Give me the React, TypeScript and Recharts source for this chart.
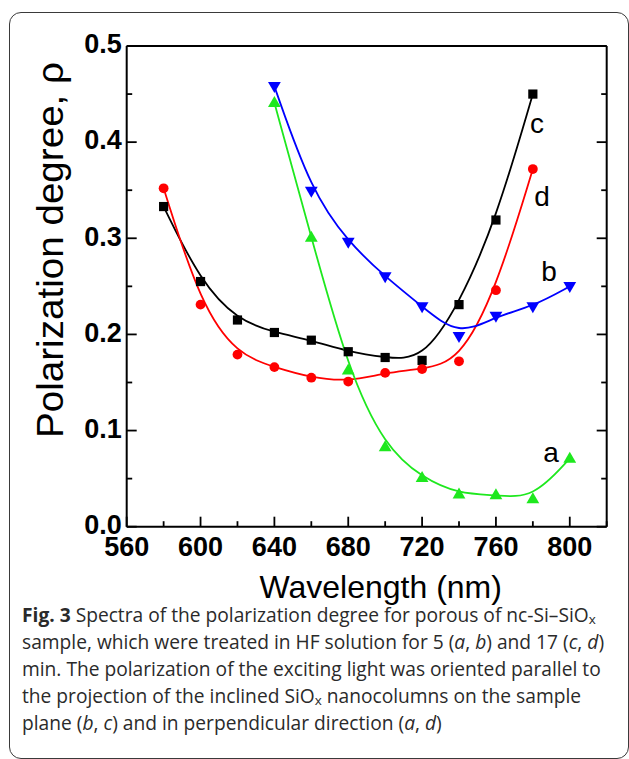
import React from 'react';
import { LineChart, Line, XAxis, YAxis, ReferenceDot } from 'recharts';

// ---------- data ----------
const wavelengthsAB = [640, 660, 680, 700, 720, 740, 760, 780, 800];
const wavelengthsCD = [580, 600, 620, 640, 660, 680, 700, 720, 740, 760, 780];
const seriesA = [0.441, 0.301, 0.163, 0.083, 0.051, 0.034, 0.033, 0.029, 0.071];
const seriesB = [0.458, 0.349, 0.296, 0.26, 0.229, 0.198, 0.219, 0.229, 0.25];
const seriesC = [0.333, 0.255, 0.215, 0.202, 0.194, 0.182, 0.176, 0.173, 0.231, 0.319, 0.45];
const seriesD = [0.352, 0.231, 0.179, 0.166, 0.155, 0.151, 0.16, 0.164, 0.172, 0.246, 0.372];

const xTicks = [560, 580, 600, 620, 640, 660, 680, 700, 720, 740, 760, 780, 800, 820];
const xMajorTicks = [560, 600, 640, 680, 720, 760, 800];
const yTicks = [0, 0.05, 0.1, 0.15, 0.2, 0.25, 0.3, 0.35, 0.4, 0.45, 0.5];
const yMajorTicks = [0, 0.1, 0.2, 0.3, 0.4, 0.5];

const curveLabels = [
  { name: 'c', w: 782.3, v: 0.42 },
  { name: 'd', w: 785, v: 0.344 },
  { name: 'b', w: 788.8, v: 0.266 },
  { name: 'a', w: 789.8, v: 0.078 },
];

const dataA = wavelengthsAB.map((w, i) => ({ w, v: seriesA[i] }));
const dataB = wavelengthsAB.map((w, i) => ({ w, v: seriesB[i] }));
const dataC = wavelengthsCD.map((w, i) => ({ w, v: seriesC[i] }));
const dataD = wavelengthsCD.map((w, i) => ({ w, v: seriesD[i] }));

// ---------- styling ----------
const FONT = '"Liberation Sans", Arial, Helvetica, sans-serif';
const GREEN = '#1ee81e';
const BLUE = '#0000ff';
const RED = '#ff0000';
const BLACK = '#000000';

const CHART_W = 629;
const CHART_H = 620;
const PLOT_LEFT = 126.7;
const PLOT_RIGHT = 606.7;
const PLOT_TOP = 46;
const PLOT_BOTTOM = 526.7;
const Y_AXIS_W = 100;
const X_AXIS_H = 60;

const MAJOR_LEN = 10;
const MINOR_LEN = 5.5;

const isMajorX = (v: number) => xMajorTicks.indexOf(v) >= 0;
const isMajorY = (v: number) => yMajorTicks.some((t) => Math.abs(t - v) < 1e-6);

// ---------- markers ----------
const squareDot = (props: any) => {
  const { cx, cy, index } = props;
  if (cx == null || cy == null) return <g key={`sq-${index}`} />;
  return <rect key={`sq-${index}`} x={cx - 4.6} y={cy - 4.6} width={9.2} height={9.2} fill={BLACK} />;
};
const circleDot = (props: any) => {
  const { cx, cy, index } = props;
  if (cx == null || cy == null) return <g key={`ci-${index}`} />;
  return <circle key={`ci-${index}`} cx={cx} cy={cy} r={4.9} fill={RED} />;
};
const upTriDot = (props: any) => {
  const { cx, cy, index } = props;
  if (cx == null || cy == null) return <g key={`ut-${index}`} />;
  const w = 6.4;
  const h = 11;
  return (
    <path
      key={`ut-${index}`}
      d={`M${cx},${cy - h * 0.6} L${cx + w},${cy + h * 0.4} L${cx - w},${cy + h * 0.4} Z`}
      fill={GREEN}
    />
  );
};
const downTriDot = (props: any) => {
  const { cx, cy, index } = props;
  if (cx == null || cy == null) return <g key={`dt-${index}`} />;
  const w = 6.4;
  const h = 11;
  return (
    <path
      key={`dt-${index}`}
      d={`M${cx - w},${cy - h * 0.4} L${cx + w},${cy - h * 0.4} L${cx},${cy + h * 0.6} Z`}
      fill={BLUE}
    />
  );
};

// ---------- ticks ----------
const BottomTick = (props: any) => {
  const { x, payload } = props;
  const v = payload.value;
  const major = isMajorX(v);
  return (
    <g>
      <line x1={x} x2={x} y1={PLOT_BOTTOM} y2={PLOT_BOTTOM - (major ? MAJOR_LEN : MINOR_LEN)} stroke="#000" strokeWidth={1.8} />
      {major && (
        <text x={x} y={PLOT_BOTTOM + 10} dy="0.72em" textAnchor="middle" fontFamily={FONT} fontWeight="bold" fontSize={27} fill="#000">
          {v}
        </text>
      )}
    </g>
  );
};
const TopTick = (props: any) => {
  const { x, payload } = props;
  const major = isMajorX(payload.value);
  return <line x1={x} x2={x} y1={PLOT_TOP} y2={PLOT_TOP + (major ? MAJOR_LEN : MINOR_LEN)} stroke="#000" strokeWidth={1.8} />;
};
const LeftTick = (props: any) => {
  const { y, payload } = props;
  const v = payload.value;
  const major = isMajorY(v);
  return (
    <g>
      <line x1={PLOT_LEFT} x2={PLOT_LEFT + (major ? MAJOR_LEN : MINOR_LEN)} y1={y} y2={y} stroke="#000" strokeWidth={1.8} />
      {major && (
        <text x={PLOT_LEFT - 5} y={y - 2.5} dy="0.36em" textAnchor="end" fontFamily={FONT} fontWeight="bold" fontSize={27} fill="#000">
          {v.toFixed(1)}
        </text>
      )}
    </g>
  );
};
const RightTick = (props: any) => {
  const { y, payload } = props;
  const major = isMajorY(payload.value);
  return <line x1={PLOT_RIGHT} x2={PLOT_RIGHT - (major ? MAJOR_LEN : MINOR_LEN)} y1={y} y2={y} stroke="#000" strokeWidth={1.8} />;
};

const XTitle = (props: any) => {
  const vb = props.viewBox || { x: PLOT_LEFT, width: PLOT_RIGHT - PLOT_LEFT };
  return (
    <text x={vb.x + vb.width / 2 + 14} y={597.5} textAnchor="middle" fontFamily={FONT} fontSize={32} fill="#000">
      Wavelength (nm)
    </text>
  );
};
const YTitle = () => {
  const cx = 63;
  const cy = 250;
  return (
    <text
      x={cx}
      y={cy}
      textAnchor="middle"
      fontFamily={FONT}
      fontSize={37}
      fill="#000"
      textLength={376}
      lengthAdjust="spacingAndGlyphs"
      transform={`rotate(-90 ${cx} ${cy})`}
    >
      Polarization degree, ρ
    </text>
  );
};

const CurveLabel = (name: string) => (props: any) => {
  const vb = props.viewBox || {};
  const cx = vb.x + (vb.width || 0) / 2;
  const cy = vb.y + (vb.height || 0) / 2;
  return (
    <text x={cx} y={cy} dy="0.36em" textAnchor="middle" fontFamily={FONT} fontSize={28} fill="#000">
      {name}
    </text>
  );
};

const captionStyle: React.CSSProperties = {
  position: 'absolute',
  left: 22,
  top: 601,
  fontFamily: '"Open Sans", "Noto Sans", sans-serif',
  fontSize: 19.2,
  lineHeight: '27px',
  color: '#2a2a2a',
  whiteSpace: 'nowrap',
};

const subStyle: React.CSSProperties = { fontSize: '0.7em', lineHeight: 0, position: 'relative', top: 1.5 };

export default function App() {
  return (
    <div style={{ position: 'absolute', left: 0, top: 0, width: 629, height: 759, background: '#fff', overflow: 'hidden' }}>
      <div
        style={{
          position: 'absolute',
          left: 9,
          top: 12,
          width: 619.5,
          height: 747,
          border: '1.6px solid #3a3a3a',
          borderRadius: 12,
          boxSizing: 'border-box',
        }}
      />
      <div style={{ position: 'absolute', left: 0, top: 0 }}>
        <LineChart
          width={CHART_W}
          height={CHART_H}
          margin={{ top: PLOT_TOP, right: CHART_W - PLOT_RIGHT, left: PLOT_LEFT - Y_AXIS_W, bottom: CHART_H - PLOT_BOTTOM - X_AXIS_H }}
        >
          <XAxis
            xAxisId="x"
            dataKey="w"
            type="number"
            domain={[560, 820]}
            allowDataOverflow
            ticks={xTicks}
            interval={0}
            height={X_AXIS_H}
            tickSize={0}
            tickMargin={0}
            tickLine={false}
            axisLine={{ stroke: '#000', strokeWidth: 2 }}
            tick={BottomTick}
            label={{ content: XTitle }}
          />
          <XAxis
            xAxisId="xt"
            orientation="top"
            mirror
            type="number"
            domain={[560, 820]}
            allowDataOverflow
            ticks={xTicks}
            interval={0}
            tickSize={0}
            tickMargin={0}
            tickLine={false}
            axisLine={{ stroke: '#000', strokeWidth: 2 }}
            tick={TopTick}
          />
          <YAxis
            yAxisId="y"
            type="number"
            domain={[0, 0.5]}
            allowDataOverflow
            ticks={yTicks}
            interval={0}
            width={Y_AXIS_W}
            tickSize={0}
            tickMargin={0}
            tickLine={false}
            axisLine={{ stroke: '#000', strokeWidth: 2 }}
            tick={LeftTick}
            label={{ content: YTitle }}
          />
          <YAxis
            yAxisId="yr"
            orientation="right"
            mirror
            type="number"
            domain={[0, 0.5]}
            allowDataOverflow
            ticks={yTicks}
            interval={0}
            tickSize={0}
            tickMargin={0}
            tickLine={false}
            axisLine={{ stroke: '#000', strokeWidth: 2 }}
            tick={RightTick}
          />
          <Line xAxisId="x" yAxisId="y" data={dataC} dataKey="v" type="basis" stroke={BLACK} strokeWidth={1.8} dot={squareDot} activeDot={false} isAnimationActive={false} />
          <Line xAxisId="x" yAxisId="y" data={dataD} dataKey="v" type="basis" stroke={RED} strokeWidth={1.8} dot={circleDot} activeDot={false} isAnimationActive={false} />
          <Line xAxisId="x" yAxisId="y" data={dataB} dataKey="v" type="basis" stroke={BLUE} strokeWidth={1.8} dot={downTriDot} activeDot={false} isAnimationActive={false} />
          <Line xAxisId="x" yAxisId="y" data={dataA} dataKey="v" type="basis" stroke={GREEN} strokeWidth={1.8} dot={upTriDot} activeDot={false} isAnimationActive={false} />
          {curveLabels.map((l) => (
            <ReferenceDot
              key={l.name}
              xAxisId="x"
              yAxisId="y"
              x={l.w}
              y={l.v}
              r={0}
              fill="none"
              stroke="none"
              label={{ content: CurveLabel(l.name) }}
            />
          ))}
        </LineChart>
      </div>
      <div style={captionStyle}>
        <b style={{ fontWeight: 700 }}>Fig. 3</b> Spectra of the polarization degree for porous of nc-Si–SiO<span style={subStyle}>x</span>
        <br />
        sample, which were treated in HF solution for 5 (<i>a</i>, <i>b</i>) and 17 (<i>c</i>, <i>d</i>)
        <br />
        min. The polarization of the exciting light was oriented parallel to
        <br />
        the projection of the inclined SiO<span style={subStyle}>x</span> nanocolumns on the sample
        <br />
        plane (<i>b</i>, <i>c</i>) and in perpendicular direction (<i>a</i>, <i>d</i>)
      </div>
    </div>
  );
}
